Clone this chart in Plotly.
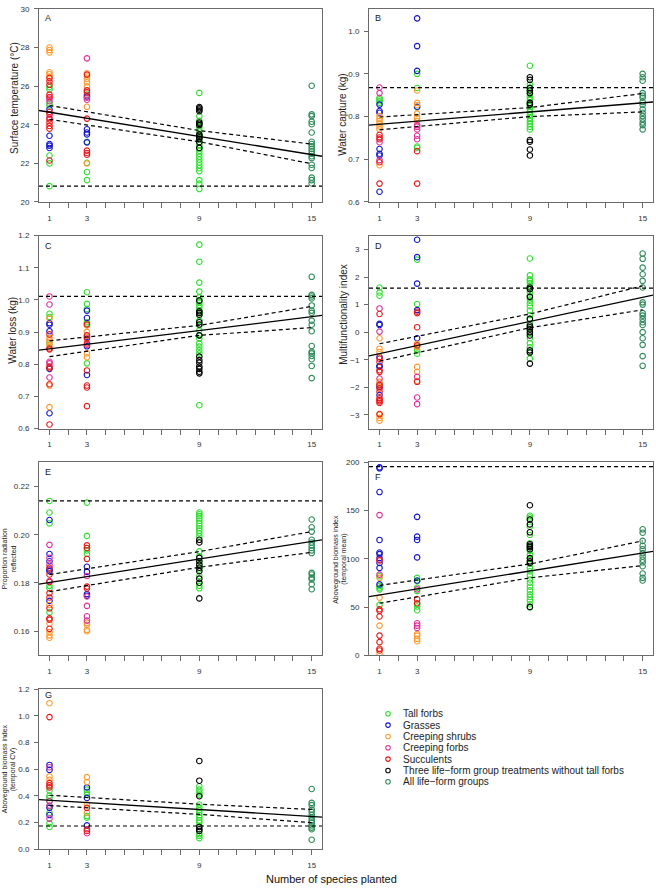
import plotly.graph_objects as go

W, H = 656, 893

# ---------------- data ----------------
GROUPS = ["Tall forbs", "Grasses", "Creeping shrubs", "Creeping forbs", "Succulents",
          "Three life\u2212form group treatments without tall forbs", "All life\u2212form groups"]
GROUP_COLORS = ["#33dd33", "#1414c8", "#ff9a2e", "#e0309a", "#e61a1a", "#000000", "#2e8b57"]

X_TICKS = list(range(1, 16))
X_TICK_LABELS = ["1", "", "3", "", "", "", "", "", "9", "", "", "", "", "", "15"]
X_RANGE = [0.44, 15.55]

# Panel A: surface temperature
A1_tall = [25.95, 25.82, 25.1, 25.0, 22.41, 22.0, 20.82]
A1_grass = [24.8, 23.43, 23.0, 22.92, 22.8]
A1_shrub = [28.0, 27.87, 27.75, 26.72, 26.62, 26.5]
A1_cforb = [25.36, 25.22, 24.37]
A1_succ = [26.42, 26.25, 26.07, 25.56, 25.44, 24.66, 24.54, 24.28, 24.11, 23.94, 23.8, 22.15]
A3_tall = [25.56, 23.12, 22.03, 21.55, 21.13]
A3_grass = [25.47, 23.77, 23.6, 23.5, 23.09]
A3_shrub = [26.67, 26.5, 26.37, 26.2, 25.99, 24.93, 22.0]
A3_cforb = [27.44, 25.4, 25.3]
A3_succ = [26.6, 25.78, 25.68, 24.32, 22.66, 22.54, 22.45]
A9_tall = [25.65, 24.45, 24.2, 23.86, 23.7, 23.5, 23.3, 23.1, 22.95, 22.8, 22.65, 22.5, 22.35, 22.2,
           22.05, 21.9, 21.75, 21.6, 21.13, 20.95, 20.67]
A9_three = [24.92, 24.85, 24.78, 24.7, 24.12, 24.05, 23.98, 23.5, 23.43, 23.35, 23.26, 23.1, 22.8]
A15_all = [26.02, 24.54, 24.45, 24.16, 24.03, 23.6, 23.12, 23.0, 22.88, 22.75, 22.63, 22.5, 22.37,
           22.27, 21.93, 21.76, 21.26, 21.13, 20.96]

# Panel B: water capture
B1_tall = [0.844, 0.840, 0.836, 0.832]
B1_grass = [0.828, 0.813, 0.809, 0.724, 0.713, 0.709, 0.624]
B1_shrub = [0.801, 0.795, 0.790, 0.784, 0.777, 0.770, 0.686]
B1_cforb = [0.868, 0.855, 0.740, 0.698]
B1_succ = [0.757, 0.751, 0.747, 0.693, 0.643]
B3_tall = [0.900, 0.867, 0.822, 0.730, 0.727]
B3_grass = [1.030, 0.965, 0.907, 0.823]
B3_shrub = [0.861, 0.832, 0.827, 0.807, 0.797, 0.790]
B3_cforb = [0.780, 0.776, 0.770, 0.755, 0.747]
B3_succ = [0.719, 0.643]
B9_tall = [0.919, 0.875, 0.868, 0.861, 0.853, 0.846, 0.839, 0.832, 0.825, 0.818, 0.811, 0.804,
           0.797, 0.790, 0.783, 0.776, 0.770]
B9_three = [0.892, 0.886, 0.867, 0.861, 0.855, 0.832, 0.828, 0.745, 0.741, 0.723, 0.709]
B15_all = [0.900, 0.892, 0.884, 0.855, 0.849, 0.844, 0.834, 0.827, 0.817, 0.809, 0.801, 0.794,
           0.786, 0.780, 0.770]

# Panel C: water loss
C1_tall = [0.957, 0.947, 0.865]
C1_grass = [0.928, 0.923, 0.903, 0.786, 0.648]
C1_shrub = [0.942, 0.882, 0.875, 0.870, 0.859, 0.734, 0.667]
C1_cforb = [1.011, 0.986, 0.808, 0.803, 0.759]
C1_succ = [0.893, 0.849, 0.846, 0.793, 0.788, 0.738, 0.613]
C3_tall = [1.024, 0.988, 0.972, 0.931, 0.926, 0.803]
C3_grass = [0.967, 0.944, 0.885, 0.856, 0.767]
C3_shrub = [0.921, 0.901, 0.834, 0.822]
C3_cforb = [0.860]
C3_succ = [0.924, 0.890, 0.880, 0.865, 0.781, 0.734, 0.728, 0.670]
C9_tall = [1.172, 1.119, 1.054, 1.026, 1.008, 1.0, 0.992, 0.984, 0.977, 0.967, 0.960, 0.952,
           0.936, 0.921, 0.906, 0.890, 0.880, 0.865, 0.855, 0.844, 0.834, 0.673]
C9_three = [0.998, 0.965, 0.960, 0.954, 0.931, 0.924, 0.890, 0.824, 0.813, 0.805, 0.793, 0.786,
            0.777, 0.772]
C15_all = [1.072, 1.016, 1.011, 1.005, 0.983, 0.967, 0.960, 0.936, 0.923, 0.903, 0.857, 0.839,
           0.834, 0.826, 0.816, 0.795, 0.757]

# Panel D: multifunctionality index
D1_tall = [1.62, 1.44, 1.32]
D1_grass = [0.30, 0.26, -0.90, -1.22, -1.26, -1.89, -1.98, -2.28]
D1_shrub = [-0.22, -0.60, -0.72, -1.80, -1.88, -2.99, -3.11, -3.21]
D1_cforb = [0.86, 0.02, -1.68]
D1_succ = [0.66, -0.96, -1.08, -1.38, -1.44, -1.92, -2.04, -2.16, -2.40, -2.46, -2.51, -2.57, -2.97]
D3_tall = [2.63, 1.02, -0.66, -0.78]
D3_grass = [3.35, 2.72, 1.76, 0.80, -0.22]
D3_shrub = [-0.42, -0.54, -1.26, -1.44, -1.77]
D3_cforb = [-1.62, -2.37, -2.61]
D3_succ = [0.74, 0.69, 0.18, -0.48, -1.80]
D9_tall = [2.67, 2.06, 1.92, 1.86, 1.78, 1.68, 1.56, 1.44, 1.32, 1.18, 1.06, 0.94, 0.78, 0.62,
           0.48, 0.30, 0.12, -0.05, -0.22, -0.40, -0.55, -0.72, -0.96]
D9_three = [1.62, 1.56, 1.28, 0.48, 0.24, 0.18, 0.10, 0.0, -0.12, -0.66, -0.74, -1.14]
D15_all = [2.85, 2.66, 2.34, 2.10, 1.86, 1.62, 1.08, 1.0, 0.69, 0.60, 0.48, 0.36, 0.26, 0.0,
           -0.22, -0.46, -0.87, -1.22]

# Panel E: proportion radiation reflected
E1_tall = [0.2140, 0.2092, 0.2047, 0.1788, 0.1778, 0.1678]
E1_grass = [0.2061, 0.1920, 0.1890, 0.1856, 0.1849, 0.1726]
E1_shrub = [0.1709, 0.1631, 0.1597, 0.1583, 0.1573]
E1_cforb = [0.1958, 0.1904, 0.1876, 0.1808]
E1_succ = [0.1863, 0.1835, 0.1804, 0.1758, 0.1740, 0.1695, 0.1654, 0.1648, 0.1610]
E3_tall = [0.2133, 0.1995, 0.1945, 0.1935, 0.1920]
E3_grass = [0.1867, 0.1846, 0.1754, 0.1747]
E3_shrub = [0.1635, 0.1627, 0.1606, 0.1600]
E3_cforb = [0.1829, 0.1744, 0.1705, 0.1662, 0.1644]
E3_succ = [0.1956, 0.1945, 0.1900, 0.1785, 0.1777]
E9_tall = [0.2092, 0.2085, 0.2077, 0.2068, 0.2058, 0.2047, 0.2036, 0.2027, 0.2017, 0.2006, 0.1993,
           0.1931, 0.1911, 0.1890, 0.1876, 0.1856, 0.1829, 0.1801, 0.1788, 0.1778]
E9_three = [0.1979, 0.1968, 0.1904, 0.1890, 0.1876, 0.1863, 0.1849, 0.1818, 0.1801, 0.1736]
E15_all = [0.2063, 0.2031, 0.2013, 0.1979, 0.1968, 0.1956, 0.1945, 0.1935, 0.1924, 0.1842, 0.1835,
           0.1822, 0.1815, 0.1795, 0.1774]

# Panel F: aboveground biomass index (temporal mean)
F1_tall = [82.0, 71.8, 70.1, 68.4, 52.3]
F1_grass = [194.8, 193.8, 169.2, 119.6, 106.6, 104.9, 100.8, 95.7, 90.6, 73.5]
F1_shrub = [80.3, 59.8, 30.8, 1.7]
F1_cforb = [145.3, 99.1, 83.7]
F1_succ = [98.4, 47.8, 46.1, 40.3, 20.5, 13.7, 6.8, 5.1]
F3_tall = [80.3, 76.9, 70.1, 66.6, 53.0, 50.6, 46.8]
F3_grass = [143.5, 123.0, 119.6, 101.5, 77.6]
F3_shrub = [22.2, 20.5, 17.1, 14.7]
F3_cforb = [68.4, 33.2, 30.8, 28.4]
F3_succ = [58.1, 54.0]
F9_tall = [144.6, 142.9, 140.8, 133.3, 124.7, 116.2, 111.8, 108.3, 104.2, 99.8, 95.0, 90.6, 87.1,
           83.0, 78.6, 75.2, 71.1, 67.3, 63.2, 60.5, 57.1, 53.0, 49.6]
F9_three = [155.5, 140.8, 135.7, 127.5, 115.2, 113.5, 112.1, 110.0, 100.8, 97.4, 95.7, 50.2]
F15_all = [130.6, 127.1, 118.6, 113.5, 110.0, 105.9, 102.5, 99.1, 96.4, 92.3, 84.8, 80.3, 77.6]

# Panel G: aboveground biomass index (temporal CV)
G1_tall = [0.440, 0.402, 0.385, 0.360, 0.323, 0.274, 0.195, 0.168]
G1_grass = [0.632, 0.595, 0.311, 0.257]
G1_shrub = [1.094, 0.546, 0.521]
G1_cforb = [0.615, 0.360, 0.328, 0.230]
G1_succ = [0.990, 0.496, 0.479, 0.464]
G3_tall = [0.447, 0.430, 0.410, 0.249, 0.237]
G3_grass = [0.464, 0.385, 0.180]
G3_shrub = [0.541, 0.504, 0.336, 0.274]
G3_cforb = [0.121]
G3_succ = [0.311, 0.151, 0.138]
G9_tall = [0.472, 0.447, 0.427, 0.410, 0.336, 0.311, 0.294, 0.274, 0.257, 0.237, 0.217, 0.200,
           0.175, 0.114, 0.101, 0.084]
G9_three = [0.662, 0.514, 0.398, 0.168, 0.151, 0.138]
G15_all = [0.452, 0.348, 0.331, 0.299, 0.281, 0.257, 0.237, 0.217, 0.200, 0.180, 0.163, 0.151, 0.072]

# Regression fits, confidence bands and best-monoculture reference lines (panels A..G)
FIT_INTERCEPT = [24.81, 0.7785, 0.8408, -0.923, 0.17895, 59.46, 0.3769]
FIT_SLOPE = [-0.157, 0.00358, 0.00715, 0.1457, 0.001219, 3.106, -0.00868]
CI_X = [1, 9, 15]
CI_UPPER = [[25.0, 23.7, 23.0], [0.799, 0.821, 0.854], [0.873, 0.921, 0.980], [-0.42, 0.66, 1.68],
            [0.1835, 0.1930, 0.2013], [72.5, 94.7, 118.6], [0.405, 0.338, 0.299]]
CI_LOWER = [[24.28, 23.12, 21.98], [0.769, 0.800, 0.811], [0.824, 0.890, 0.914], [-1.05, 0.16, 0.81],
            [0.1764, 0.1865, 0.1927], [54.0, 80.3, 93.0], [0.328, 0.262, 0.200]]
HLINE = [20.82, 0.868, 1.011, 1.60, 0.214, 195.5, 0.175]

PANEL_LETTERS = ["A", "B", "C", "D", "E", "F", "G"]
Y_TITLES = [["Surface temperature (\u00b0C)"], ["Water capture (kg)"], ["Water loss (kg)"],
            ["Multifunctionality index"], ["Proportion radiation", "reflected"],
            ["Aboveground biomass index", "(temporal mean)"],
            ["Aboveground biomass index", "(temporal CV)"]]
X_TITLE = "Number of species planted"

# (x, group index, values) for each panel
PANEL_DATA = [
    [(1, 0, A1_tall), (1, 1, A1_grass), (1, 2, A1_shrub), (1, 3, A1_cforb), (1, 4, A1_succ),
     (3, 0, A3_tall), (3, 1, A3_grass), (3, 2, A3_shrub), (3, 3, A3_cforb), (3, 4, A3_succ),
     (9, 0, A9_tall), (9, 5, A9_three), (15, 6, A15_all)],
    [(1, 0, B1_tall), (1, 1, B1_grass), (1, 2, B1_shrub), (1, 3, B1_cforb), (1, 4, B1_succ),
     (3, 0, B3_tall), (3, 1, B3_grass), (3, 2, B3_shrub), (3, 3, B3_cforb), (3, 4, B3_succ),
     (9, 0, B9_tall), (9, 5, B9_three), (15, 6, B15_all)],
    [(1, 0, C1_tall), (1, 1, C1_grass), (1, 2, C1_shrub), (1, 3, C1_cforb), (1, 4, C1_succ),
     (3, 0, C3_tall), (3, 1, C3_grass), (3, 2, C3_shrub), (3, 3, C3_cforb), (3, 4, C3_succ),
     (9, 0, C9_tall), (9, 5, C9_three), (15, 6, C15_all)],
    [(1, 0, D1_tall), (1, 1, D1_grass), (1, 2, D1_shrub), (1, 3, D1_cforb), (1, 4, D1_succ),
     (3, 0, D3_tall), (3, 1, D3_grass), (3, 2, D3_shrub), (3, 3, D3_cforb), (3, 4, D3_succ),
     (9, 0, D9_tall), (9, 5, D9_three), (15, 6, D15_all)],
    [(1, 0, E1_tall), (1, 1, E1_grass), (1, 2, E1_shrub), (1, 3, E1_cforb), (1, 4, E1_succ),
     (3, 0, E3_tall), (3, 1, E3_grass), (3, 2, E3_shrub), (3, 3, E3_cforb), (3, 4, E3_succ),
     (9, 0, E9_tall), (9, 5, E9_three), (15, 6, E15_all)],
    [(1, 0, F1_tall), (1, 1, F1_grass), (1, 2, F1_shrub), (1, 3, F1_cforb), (1, 4, F1_succ),
     (3, 0, F3_tall), (3, 1, F3_grass), (3, 2, F3_shrub), (3, 3, F3_cforb), (3, 4, F3_succ),
     (9, 0, F9_tall), (9, 5, F9_three), (15, 6, F15_all)],
    [(1, 0, G1_tall), (1, 1, G1_grass), (1, 2, G1_shrub), (1, 3, G1_cforb), (1, 4, G1_succ),
     (3, 0, G3_tall), (3, 1, G3_grass), (3, 2, G3_shrub), (3, 3, G3_cforb), (3, 4, G3_succ),
     (9, 0, G9_tall), (9, 5, G9_three), (15, 6, G15_all)],
]

# ---------------- layout config (pixels) ----------------
# box: (left, right, top, bottom) in px
PANEL_BOX = [(39, 322, 5, 200), (369, 653, 5, 200),
             (39, 322, 234, 429), (369, 653, 234, 429),
             (39, 322, 463, 658), (369, 653, 463, 658),
             (39, 322, 692, 854)]
Y_AXES = [dict(range=[20, 30], tick0=20, dtick=2, tickformat="d"),
          dict(range=[0.6, 1.052], tick0=0.6, dtick=0.1, tickformat=".1f"),
          dict(range=[0.6, 1.2], tick0=0.6, dtick=0.1, tickformat=".1f"),
          dict(range=[-3.5, 3.5], tick0=-3, dtick=1, tickformat="d"),
          dict(range=[0.15, 0.23], tick0=0.16, dtick=0.02, tickformat=".2f"),
          dict(range=[0, 200], tick0=0, dtick=50, tickformat="d"),
          dict(range=[0, 1.2], tick0=0, dtick=0.2, tickformat=".1f")]
Y_TITLE_POS = [(14, 95), (343, 112), (13, 330), (344, 314), (9, 561), (340.5, 561), (9, 773)]
LETTER_POS = [(43, 14), (373, 14), (43, 244), (373, 244), (43, 473), (373, 478), (43, 698)]

FONT = "Liberation Sans, Arial, Helvetica, sans-serif"
FRAME = "#6a6a6a"
DASH = "4px,3px"

fig = go.Figure()
annotations = []
layout = dict(width=W, height=H, margin=dict(l=0, r=0, t=0, b=0), paper_bgcolor="white",
              plot_bgcolor="white", showlegend=False, font=dict(family=FONT, color="#222"))

for i in range(7):
    n = "" if i == 0 else str(i + 1)
    xa, ya = "x" + n, "y" + n
    left, right, top, bottom = PANEL_BOX[i]
    layout["xaxis" + n] = dict(domain=[left / W, right / W], range=X_RANGE, anchor=ya,
                               tickmode="array", tickvals=X_TICKS, ticktext=X_TICK_LABELS,
                               ticks="outside", ticklen=5, tickwidth=1, tickcolor=FRAME,
                               showline=True, linecolor=FRAME, linewidth=1, mirror=True,
                               showgrid=False, zeroline=False, ticklabelstandoff=3,
                               tickfont=dict(size=8, color="#333", family=FONT))
    yax = dict(domain=[1 - bottom / H, 1 - top / H], anchor=xa, tickmode="linear",
               ticks="outside", ticklen=4, tickwidth=1, tickcolor=FRAME,
               showline=True, linecolor=FRAME, linewidth=1, mirror=True,
               showgrid=False, zeroline=False, ticklabelstandoff=3,
               tickfont=dict(size=8, color="#333", family=FONT))
    yax.update(Y_AXES[i])
    layout["yaxis" + n] = yax

    for xv, g, vals in PANEL_DATA[i]:
        fig.add_trace(go.Scatter(
            x=[xv] * len(vals), y=vals, mode="markers", xaxis=xa, yaxis=ya,
            marker=dict(symbol="circle-open", size=5.5, color=GROUP_COLORS[g],
                        line=dict(width=1.1, color=GROUP_COLORS[g])),
            name=GROUPS[g], hoverinfo="x+y"))

    fig.add_trace(go.Scatter(x=X_RANGE, y=[HLINE[i], HLINE[i]], mode="lines", xaxis=xa, yaxis=ya,
                             line=dict(color="black", width=1.2, dash=DASH), hoverinfo="skip"))
    for band in (CI_UPPER[i], CI_LOWER[i]):
        fig.add_trace(go.Scatter(x=CI_X, y=band, mode="lines", xaxis=xa, yaxis=ya,
                                 line=dict(color="black", width=1.2, dash=DASH), hoverinfo="skip"))
    fy = [FIT_INTERCEPT[i] + FIT_SLOPE[i] * xv for xv in X_RANGE]
    fig.add_trace(go.Scatter(x=X_RANGE, y=fy, mode="lines", xaxis=xa, yaxis=ya,
                             line=dict(color="black", width=1.3), hoverinfo="skip"))

    lx, ly = LETTER_POS[i]
    annotations.append(dict(text=PANEL_LETTERS[i], x=lx / W, y=1 - ly / H, xref="paper", yref="paper",
                            xanchor="left", yanchor="middle", showarrow=False,
                            font=dict(size=9, color="#222", family=FONT)))
    tx, ty = Y_TITLE_POS[i]
    lines = Y_TITLES[i]
    if len(lines) == 1:
        annotations.append(dict(text=lines[0], x=tx / W, y=1 - ty / H, xref="paper", yref="paper",
                                textangle=-90, xanchor="center", yanchor="middle", showarrow=False,
                                font=dict(size=10, color="#222", family=FONT)))
    else:
        for k, line in enumerate(lines):
            annotations.append(dict(text=line, x=(tx - 4 + 8 * k) / W, y=1 - ty / H,
                                    xref="paper", yref="paper", textangle=-90,
                                    xanchor="center", yanchor="middle", showarrow=False,
                                    font=dict(size=7, color="#222", family=FONT)))

annotations.append(dict(text=X_TITLE, x=331.5 / W, y=1 - 884 / H, xref="paper", yref="paper",
                        xanchor="center", yanchor="middle", showarrow=False,
                        font=dict(size=11, color="#111", family=FONT)))

# manual legend on its own hidden axis (1 unit = 1 px)
LEG_LEFT, LEG_TOP, LEG_BOTTOM = 380, 705, 800
layout["xaxis8"] = dict(domain=[LEG_LEFT / W, 1], range=[LEG_LEFT, W], visible=False,
                        anchor="y8", fixedrange=True)
layout["yaxis8"] = dict(domain=[1 - LEG_BOTTOM / H, 1 - LEG_TOP / H], range=[LEG_BOTTOM, LEG_TOP],
                        visible=False, anchor="x8", fixedrange=True)
ROW0, ROW_STEP, MARK_X, TEXT_X = 717, 11.45, 388, 401
for g, name in enumerate(GROUPS):
    ry = ROW0 + g * ROW_STEP
    fig.add_trace(go.Scatter(x=[MARK_X], y=[ry], mode="markers", xaxis="x8", yaxis="y8",
                             marker=dict(symbol="circle-open", size=4.5, color=GROUP_COLORS[g],
                                         line=dict(width=1.1, color=GROUP_COLORS[g])),
                             hoverinfo="skip", cliponaxis=False))
    annotations.append(dict(text=name, x=TEXT_X, y=ry, xref="x8", yref="y8", xanchor="left",
                            yanchor="middle", showarrow=False,
                            font=dict(size=10, color="#222", family=FONT)))

layout["annotations"] = annotations
fig.update_layout(**layout)
fig.write_html("out.html", config={"displayModeBar": False},
               post_script="document.body.style.margin='0';document.body.style.overflow='hidden';"
                           "document.documentElement.style.overflow='hidden';")
